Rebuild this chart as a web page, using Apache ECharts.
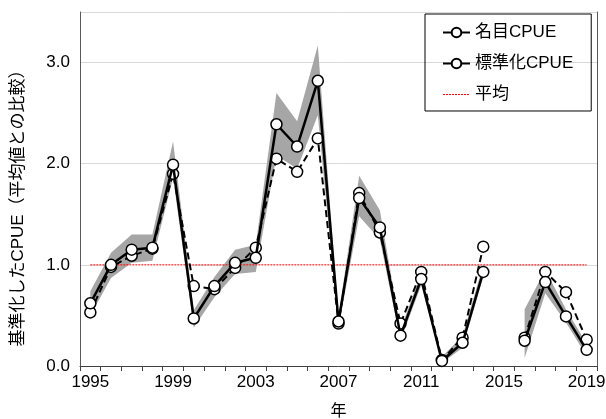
<!DOCTYPE html>
<html>
<head>
<meta charset="utf-8">
<script src="https://cdn.jsdelivr.net/npm/echarts@6/dist/echarts.min.js"></script>
<style>
  html, body { margin: 0; padding: 0; background: #fff; }
  #chart { width: 606px; height: 419px; }
</style>
</head>
<body>
<div id="chart"></div>
<script>
const years = ['1995', '1996', '1997', '1998', '1999', '2000', '2001', '2002', '2003', '2004',
  '2005', '2006', '2007', '2008', '2009', '2010', '2011', '2012', '2013', '2014',
  '2015', '2016', '2017', '2018', '2019']

// 名目CPUE（破線）
const nominal = [0.53, 0.98, 1.09, 1.16, 1.90, 0.79, 0.76, 0.97, 1.17, 2.05,
  1.92, 2.25, 0.42, 1.71, 1.32, 0.42, 0.93, 0.06, 0.28, 1.18,
  null, 0.28, 0.93, 0.73, 0.26]

// 標準化CPUE（実線）
const standardized = [0.62, 1.00, 1.15, 1.17, 1.99, 0.47, 0.79, 1.02, 1.07, 2.39,
  2.17, 2.82, 0.44, 1.66, 1.37, 0.30, 0.86, 0.05, 0.23, 0.93,
  null, 0.25, 0.83, 0.49, 0.16]

// 信頼区間
const bandLow = [0.50, 0.87, 1.02, 1.04, 1.86, 0.38, 0.68, 0.91, 0.93, 2.08,
  1.95, 2.48, 0.38, 1.48, 1.25, 0.25, 0.80, 0.03, 0.18, 0.88,
  null, 0.08, 0.72, 0.43, 0.10]
const bandHigh = [0.74, 1.12, 1.30, 1.30, 2.22, 0.55, 0.88, 1.15, 1.20, 2.70,
  2.42, 3.17, 0.50, 1.88, 1.54, 0.36, 0.92, 0.09, 0.30, 1.00,
  null, 0.56, 0.95, 0.56, 0.22]

const average = years.map(() => 1.0)

const yTicks = [0, 1, 2, 3]

const font = 'Liberation Sans, Arial, Noto Sans CJK JP'
const bandWidth = bandHigh.map((h, i) => (h == null || bandLow[i] == null) ? null : +(h - bandLow[i]).toFixed(2))

const chart = echarts.init(document.getElementById('chart'))

const markerStyle = { color: '#fff', borderColor: '#000', borderWidth: 1.5 }

chart.setOption({
  animation: false,
  textStyle: { fontFamily: font },
  grid: { left: 80, right: 9, top: 12, bottom: 53, outerBoundsMode: 'none', containLabel: false },
  legend: {
    orient: 'vertical',
    left: 425,
    top: 14,
    padding: [10, 18, 8, 17],
    borderColor: '#000',
    borderWidth: 1,
    itemWidth: 27,
    itemHeight: 12,
    itemGap: 14,
    textStyle: { fontSize: 17, color: '#000', fontFamily: font },
    lineStyle: { type: 'solid', width: 2 },
    data: [
      { name: '名目CPUE' },
      { name: '標準化CPUE' },
      { name: '平均', itemStyle: { opacity: 0 }, lineStyle: { type: [2, 1], width: 1, color: '#ff0000' } }
    ]
  },
  xAxis: {
    type: 'category',
    data: years,
    boundaryGap: true,
    name: '年',
    nameLocation: 'middle',
    nameGap: 38,
    nameTextStyle: { fontSize: 16, color: '#000', fontFamily: font },
    axisLine: { lineStyle: { color: '#404040', width: 1 } },
    axisTick: { show: true, interval: 0, length: 5, lineStyle: { color: '#404040' } },
    axisLabel: { interval: 3, fontSize: 17, color: '#000', margin: 8 },
    splitLine: { show: false }
  },
  yAxis: [{
    type: 'value',
    min: 0,
    max: 3.5,
    interval: 1,
    name: '基準化したCPUE（平均値との比較）',
    nameLocation: 'middle',
    nameGap: 53,
    nameTextStyle: { fontSize: 17, color: '#000', fontFamily: font, padding: [0, 30, 0, 0] },
    axisLine: { show: true, lineStyle: { color: '#595959' } },
    axisTick: { show: false },
    axisLabel: {
      fontSize: 17, color: '#000', margin: 10,
      formatter: v => yTicks.includes(v) ? v.toFixed(1) : ''
    },
    splitLine: { show: true, lineStyle: { color: '#d9d9d9', width: 1 } }
  }, {
    type: 'value',
    position: 'right',
    min: 0,
    max: 3.5,
    interval: 1,
    axisLine: { show: true, lineStyle: { color: '#595959' } },
    axisTick: { show: false },
    axisLabel: { show: false },
    splitLine: { show: false }
  }],
  series: [
    {
      name: 'bandLow',
      type: 'line',
      stack: 'band',
      data: bandLow,
      symbol: 'none',
      lineStyle: { opacity: 0 },
      areaStyle: { color: '#fff', opacity: 1 },
      silent: true,
      z: 1
    },
    {
      name: 'bandWidth',
      type: 'line',
      stack: 'band',
      data: bandWidth,
      symbol: 'none',
      lineStyle: { opacity: 0 },
      areaStyle: { color: '#a6a6a6', opacity: 1 },
      silent: true,
      z: 1
    },
    {
      name: '平均',
      type: 'line',
      data: average,
      symbol: 'none',
      color: '#ff0000',
      lineStyle: { color: '#ff0000', width: 1, type: [2, 1] },
      z: 2
    },
    {
      name: '名目CPUE',
      type: 'line',
      data: nominal,
      symbol: 'circle',
      symbolSize: 11,
      color: '#000',
      lineStyle: { color: '#000', width: 2, type: [7, 4] },
      itemStyle: markerStyle,
      z: 3
    },
    {
      name: '標準化CPUE',
      type: 'line',
      data: standardized,
      symbol: 'circle',
      symbolSize: 11,
      color: '#000',
      lineStyle: { color: '#000', width: 2.5 },
      itemStyle: markerStyle,
      z: 4
    }
  ]
})
</script>
</body>
</html>
